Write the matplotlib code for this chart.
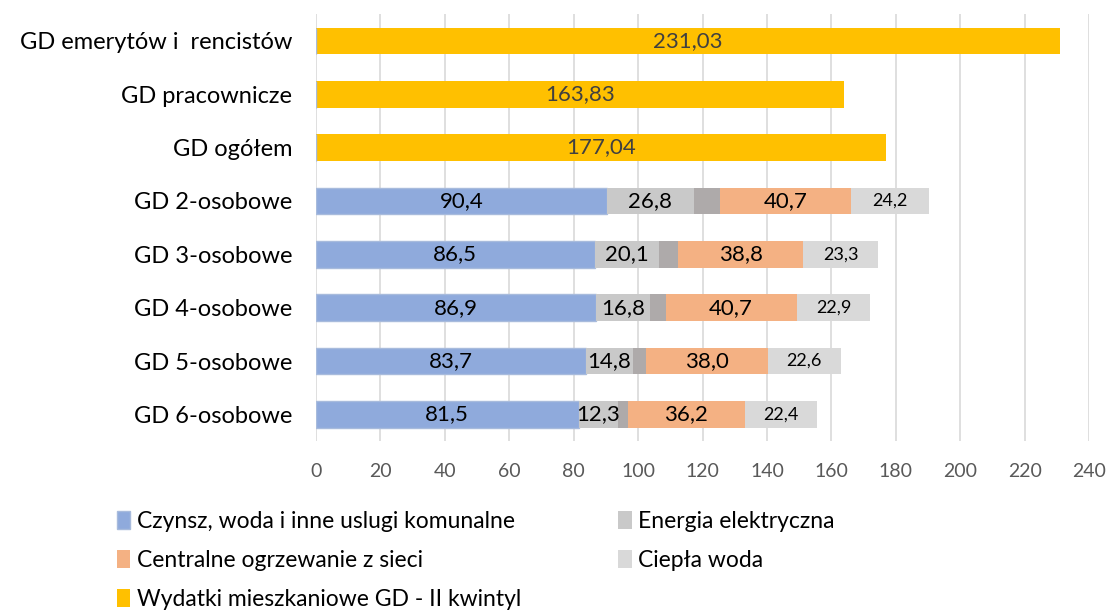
import numpy as np
import matplotlib.pyplot as plt

plt.rcParams['font.family'] = ['Lato', 'DejaVu Sans']

categories = ["GD emerytów i  rencistów", "GD pracownicze", "GD ogółem",
              "GD 2-osobowe", "GD 3-osobowe", "GD 4-osobowe", "GD 5-osobowe", "GD 6-osobowe"]

# top three rows: total housing expenses
wydatki = [231.03, 163.83, 177.04, 0, 0, 0, 0, 0]
# household-size rows: components
czynsz = [0, 0, 0, 90.4, 86.5, 86.9, 83.7, 81.5]
energia = [0, 0, 0, 26.8, 20.1, 16.8, 14.8, 12.3]
inne = [0, 0, 0, 8.3, 5.8, 4.8, 3.8, 3.1]   # unlabelled dark gray segment
ogrzewanie = [0, 0, 0, 40.7, 38.8, 40.7, 38.0, 36.2]
ciepla_woda = [0, 0, 0, 24.2, 23.3, 22.9, 22.6, 22.4]

fig = plt.figure(figsize=(11.09, 6.16), dpi=100)
ax = fig.add_axes([0.285, 0.284, 0.697, 0.693])

y = np.arange(len(categories))
h = 0.5

def fmt(v, dec=1):
    return f"{v:.{dec}f}".replace(".", ",")

b_w = ax.barh(y, wydatki, h, color="#ffc000", label="Wydatki mieszkaniowe GD - II kwintyl", zorder=2)
left = np.zeros(len(categories))
b_c = ax.barh(y, czynsz, h, left=left, color="#8faadc", edgecolor="#a8bbdc", linewidth=1,
              label="Czynsz, woda i inne uslugi komunalne", zorder=2)
left += czynsz
b_e = ax.barh(y, energia, h, left=left, color="#c9c9c9", label="Energia elektryczna", zorder=2)
left_e = left.copy()
left += energia
ax.barh(y, inne, h, left=left, color="#aeaaaa", label="_nolegend_", zorder=2)
left += inne
b_o = ax.barh(y, ogrzewanie, h, left=left, color="#f4b183", label="Centralne ogrzewanie z sieci", zorder=2)
left_o = left.copy()
left += ogrzewanie
b_cw = ax.barh(y, ciepla_woda, h, left=left, color="#d9d9d9", label="Ciepła woda", zorder=2)
left_cw = left.copy()

for i in range(len(categories)):
    if wydatki[i] > 0:
        ax.text(wydatki[i] / 2, y[i], fmt(wydatki[i], 2), ha="center", va="center",
                fontsize=16, color="#404040")
    else:
        ax.text(czynsz[i] / 2, y[i], fmt(czynsz[i]), ha="center", va="center", fontsize=16)
        ax.text(left_e[i] + energia[i] / 2, y[i], fmt(energia[i]), ha="center", va="center", fontsize=16)
        ax.text(left_o[i] + ogrzewanie[i] / 2, y[i], fmt(ogrzewanie[i]), ha="center", va="center", fontsize=16)
        ax.text(left_cw[i] + ciepla_woda[i] / 2, y[i], fmt(ciepla_woda[i]), ha="center", va="center", fontsize=13)

ax.set_yticks(y)
ax.set_yticklabels(categories, fontsize=17)
ax.set_ylim(len(categories) - 0.5, -0.5)
ax.set_xlim(0, 240)
ax.set_xticks(np.arange(0, 241, 20))
ax.tick_params(axis="x", labelsize=14, colors="#595959", length=0, pad=16)
ax.tick_params(axis="y", length=0, pad=17)
ax.grid(axis="x", color="#d9d9d9", linewidth=1.2, zorder=0)
ax.set_axisbelow(True)
for s in ax.spines.values():
    s.set_visible(False)

handles = [b_c, b_o, b_w, b_e, b_cw]
labels = [h_.get_label() for h_ in handles]
fig.legend(handles, labels, ncol=2, loc="upper left", bbox_to_anchor=(0.097, 0.185),
           frameon=False, fontsize=16.5, handlelength=0.6, handleheight=0.8,
           handletextpad=0.3, columnspacing=4.2, labelspacing=0.78, borderaxespad=0)

fig.savefig("out.png", dpi=100)
